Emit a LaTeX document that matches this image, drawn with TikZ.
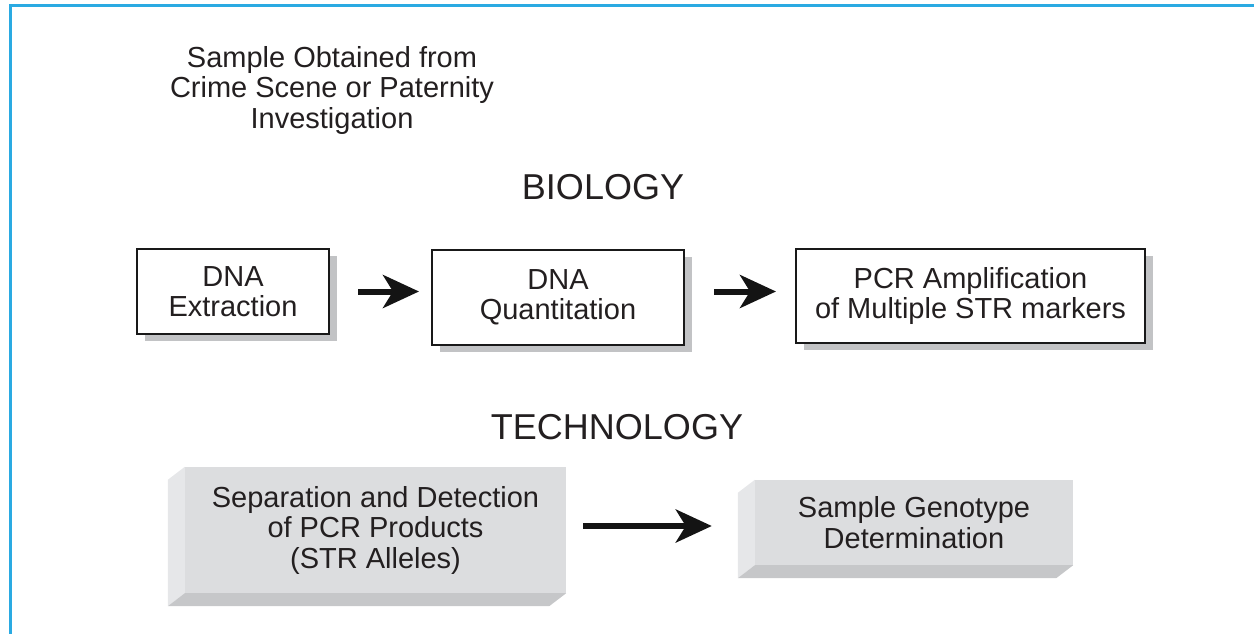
\documentclass[tikz,border=0pt]{standalone}
\usepackage{fontspec}
\setmainfont{Liberation Sans}
\usetikzlibrary{arrows.meta,calc}
\definecolor{frameblue}{HTML}{2AAAE2}
\definecolor{txt}{HTML}{231F20}
\definecolor{shadowgray}{HTML}{C2C3C5}
\definecolor{frontgray}{HTML}{DCDDDF}
\definecolor{sidegray}{HTML}{E6E7E9}
\definecolor{bottomgray}{HTML}{C6C7C9}
\tikzset{
  lbl/.style={text=txt,align=center,font=\fontsize{29}{30.5}\selectfont},
  header/.style={text=txt,font=\fontsize{36}{40}\selectfont},
  flatbox/.style={draw=black!90,line width=2pt,fill=white,inner sep=0pt,text=txt,align=center,
    font=\fontsize{29}{30}\selectfont},
  solidbox/.style={fill=frontgray,inner sep=0pt,text=txt,align=center,
    font=\fontsize{29}{30.5}\selectfont},
  bigarrow/.style={line width=6pt,draw=black!92,-{Stealth[length=36pt,width=33pt,inset=10pt]}},
}
\begin{document}
\begin{tikzpicture}[x=1pt,y=-1pt]
\useasboundingbox (0,0) rectangle (1254,633);
% frame
\draw[frameblue,line width=3pt] (10,640) -- (10,5) -- (1260,5);
% top text
\node[lbl] (src) at (332,90) {Sample Obtained from\\Crime Scene or Paternity\\Investigation};
\node[header] (bio) at (603,187) {BIOLOGY};
\node[header] (tech) at (617,427) {TECHNOLOGY};
% shadows
\fill[shadowgray] (145,256) rectangle (337,341);
\fill[shadowgray] (440,257) rectangle (692,352);
\fill[shadowgray] (804,256) rectangle (1153,350);
% flat boxes
\node[flatbox,minimum width=192pt,minimum height=85pt] (ext) at (233,291.5) {DNA\\Extraction};
\node[flatbox,minimum width=252pt,minimum height=95pt] (quant) at (558,297.5) {DNA\\Quantitation};
\node[flatbox,minimum width=349pt,minimum height=94pt] (pcr) at (970.5,296) {PCR Amplification\\of Multiple STR markers};
% solid boxes
\node[solidbox,minimum width=381pt,minimum height=126pt] (sep) at (375.5,530) {Separation and Detection\\of PCR Products\\(STR Alleles)};
\fill[sidegray] (sep.north west) -- (sep.south west) -- ++(-17,13) -- ($(sep.north west)+(-17,13)$) -- cycle;
\fill[bottomgray] (sep.south west) -- (sep.south east) -- ++(-17,13) -- ($(sep.south west)+(-17,13)$) -- cycle;
\node[solidbox,minimum width=318pt,minimum height=85pt] (gen) at (914,522.5) {Sample Genotype\\Determination};
\fill[sidegray] (gen.north west) -- (gen.south west) -- ++(-17,13) -- ($(gen.north west)+(-17,13)$) -- cycle;
\fill[bottomgray] (gen.south west) -- (gen.south east) -- ++(-17,13) -- ($(gen.south west)+(-17,13)$) -- cycle;
% arrows
\draw[bigarrow,shorten <=28pt,shorten >=12pt] (ext.east) -- (ext.east -| quant.west);
\draw[bigarrow,shorten <=29pt,shorten >=19pt] ([yshift=6pt]quant.east) -- ([yshift=6pt]quant.east -| pcr.west);
\draw[bigarrow,shorten <=17pt,shorten >=43pt] ([yshift=4pt]sep.east) -- ([yshift=4pt]sep.east -| gen.west);
\end{tikzpicture}
\end{document}
